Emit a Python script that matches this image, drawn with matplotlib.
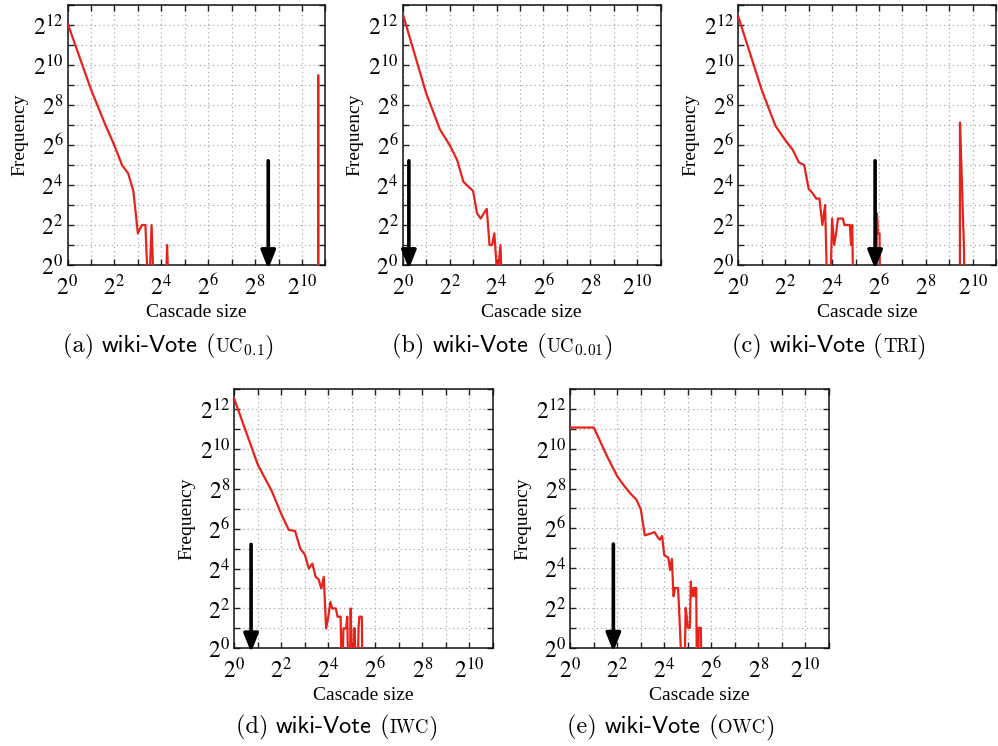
import numpy as np
import matplotlib
matplotlib.use('Agg')
import matplotlib.pyplot as plt
from matplotlib.ticker import NullLocator
from matplotlib.offsetbox import TextArea, HPacker, AnnotationBbox

# ---------------- data ----------------
size_a = [1, 2, 3, 4, 5, 6, 7, 8, 9, 10, 11, 12, 13, 18, 19, 20, 1645, 1650, 1655]
freq_a = [4400, 440, 136, 63, 32, 24, 13, 3, 4, 4, 0, 4, 0, 0, 2, 0, 0, 720, 0]

size_b = [1, 2, 3, 4, 5, 6, 7, 8, 9, 10, 11, 12, 13, 14, 15, 16, 17, 18, 19]
freq_b = [6100, 385, 110, 64, 38, 18, 15, 13, 6, 5, 6, 7, 2, 2, 3, 1, 1, 2, 0]

size_c = [1, 2, 3, 4, 5, 6, 7, 8, 9, 10, 11, 12, 13, 14, 15, 16, 17, 18, 19, 20,
          21, 22, 23, 24, 25, 26, 27, 28, 29, 30,
          59, 60, 61, 62, 63, 64, 65, 66,
          698, 700, 740, 765, 787, 803]
freq_c = [5470, 430, 124, 76, 54, 35, 32, 14, 12, 10, 10, 4, 8, 0, 0, 5, 2, 3, 5, 5,
          5, 5, 4, 4, 4, 4, 4, 2, 4, 0,
          0, 6, 5, 3, 3, 3, 3, 0,
          0, 139, 19, 5, 2, 0]

size_d = [1, 2, 3, 4, 5, 6, 7, 8, 9, 10, 11, 12, 13, 14, 15, 16, 17, 18, 19, 20,
          21, 22, 23, 24, 25, 26, 27, 28, 29, 30, 31, 32, 33, 34, 35, 36,
          38, 39, 40, 41, 42, 43, 44]
freq_d = [5800, 590, 240, 106, 61, 59, 32, 26, 16, 19, 12, 11, 8, 12, 2, 3, 5, 4, 4, 4,
          3, 3, 3, 0, 2, 2, 2, 3, 0, 0, 4, 0, 0, 2, 2, 0,
          0, 2, 3, 3, 3, 3, 0]

size_e = [1, 2, 3, 4, 5, 6, 7, 8, 9, 10, 11, 12, 13, 14, 15, 16, 17, 18, 19, 20,
          21, 22, 23, 24, 25, 26, 27, 29, 30, 31, 32, 33, 34, 35, 36, 37, 38, 39,
          40, 41, 42, 43, 44, 45, 46, 47, 48]
freq_e = [2140, 2140, 760, 390, 272, 210, 175, 124, 50, 52, 54, 56, 48, 43, 49, 25, 24, 23, 15, 22,
          6, 8, 8, 8, 3, 1, 0, 0, 4, 3, 2, 2, 2, 10, 6, 7, 8, 6,
          8, 8, 0, 0, 2, 2, 2, 2, 0]

arrow_x = [377, 1.2, 57, 1.64, 3.56]
arrow_top = 37
arrow_tip = 0.87

letters = ['(a)', '(b)', '(c)', '(d)', '(e)']
models = ['UC', 'UC', 'TRI', 'IWC', 'OWC']
model_subs = ['0.1', '0.01', '', '', '']
dataset = 'wiki-Vote'
x_label = 'Cascade size'
y_label = 'Frequency'
x_exps = list(range(0, 12))
y_exps = list(range(0, 14))

series = [(size_a, freq_a), (size_b, freq_b), (size_c, freq_c),
          (size_d, freq_d), (size_e, freq_e)]

# ---------------- layout ----------------
W, H = 998, 746
plt.rcParams['mathtext.fontset'] = 'stix'
plt.rcParams['font.family'] = ['Liberation Serif', 'DejaVu Serif']

boxes = [(67.5, 5, 325.5, 265), (402.7, 5, 660.7, 265), (738.3, 5, 996.3, 265),
         (234.3, 389, 492.8, 648.3), (570.3, 389, 828.8, 647.7)]
cap_pos = [(168.5, 346), (502.7, 346), (829, 346), (337, 727), (671, 727)]

red = '#e5231b'
fig = plt.figure(figsize=(W / 100, H / 100), dpi=100)


def labels_for(exps):
    return ['$2^{%d}$' % e if e % 2 == 0 else '' for e in exps]


for i, (sz, fq) in enumerate(series):
    l, t, r, b = boxes[i]
    ax = fig.add_axes([l / W, (H - b) / H, (r - l) / W, (b - t) / H])
    ax.set_xscale('log', base=2)
    ax.set_yscale('log', base=2)
    ax.set_xlim(1, 2048)
    ax.set_ylim(1, 8192)
    ax.set_xticks([2.0 ** e for e in x_exps], labels_for(x_exps))
    ax.set_yticks([2.0 ** e for e in y_exps], labels_for(y_exps))
    ax.xaxis.set_minor_locator(NullLocator())
    ax.yaxis.set_minor_locator(NullLocator())
    ax.tick_params(which='major', direction='in', length=4, width=1.0,
                   top=True, right=True, labelsize=17, color='#222222')
    ax.tick_params(axis='x', pad=7)
    ax.tick_params(axis='y', pad=3)
    ax.grid(True, which='major', color='#a8a8a8', linestyle=(0, (1, 2.5)), lw=0.9)
    ax.set_axisbelow(True)
    for sp in ax.spines.values():
        sp.set_linewidth(1.1)
        sp.set_color('#111111')

    f = np.asarray(fq, dtype=float)
    f_plot = np.where(f > 0, f, 0.25)
    ax.plot(sz, f_plot, color=red, lw=1.6, zorder=3)

    ax.annotate('', xy=(arrow_x[i], arrow_tip), xytext=(arrow_x[i], arrow_top),
                arrowprops=dict(arrowstyle='-|>,head_length=0.55,head_width=0.22',
                                lw=2.6, color='k', shrinkA=0, shrinkB=0,
                                mutation_scale=20),
                annotation_clip=False, zorder=4)

    ax.set_xlabel(x_label, fontsize=14)
    ax.set_ylabel(y_label, fontsize=14)
    ax.xaxis.set_label_coords(0.5, -39 / (b - t))
    ax.yaxis.set_label_coords(-39 / (r - l), 0.5)

    # caption
    cap = 17.5
    sc = 13.5
    parts = [TextArea(letters[i] + ' ', textprops=dict(family='cmr10', size=cap)),
             TextArea(dataset, textprops=dict(family='cmss10', size=cap)),
             TextArea(' (', textprops=dict(family='cmr10', size=cap)),
             TextArea(models[i], textprops=dict(family='cmr10', size=sc))]
    if model_subs[i]:
        parts.append(TextArea('$_{%s}$' % model_subs[i],
                              textprops=dict(family='cmr10', size=16,
                                             math_fontfamily='cm')))
    parts.append(TextArea(')', textprops=dict(family='cmr10', size=cap)))
    pack = HPacker(children=parts, align='baseline', pad=0, sep=0)
    cx, cy = cap_pos[i]
    ab = AnnotationBbox(pack, (cx, H - cy), xycoords='figure pixels',
                        frameon=False, box_alignment=(0.5, 0.5), pad=0)
    fig.add_artist(ab)

fig.savefig('out.png', dpi=100)
